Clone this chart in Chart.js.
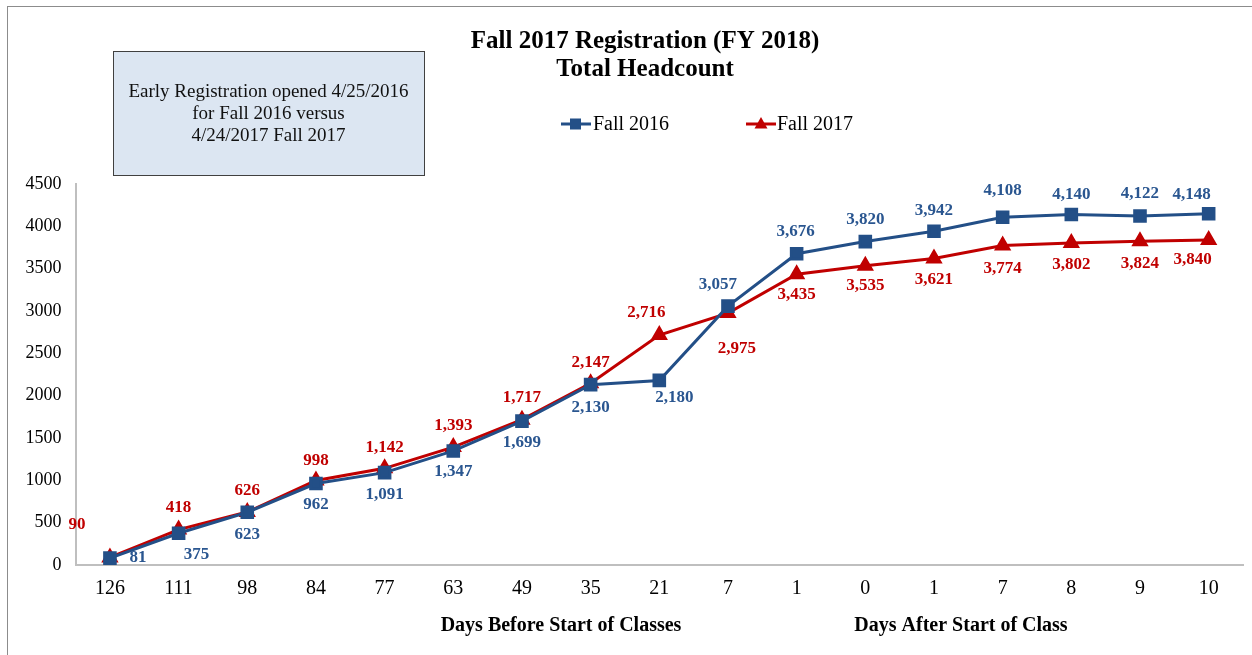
<!DOCTYPE html>
<html>
<head>
<meta charset="utf-8">
<script src="https://cdn.jsdelivr.net/npm/chart.js@4.4.1/dist/chart.umd.min.js"></script>
<style>
  html, body { margin: 0; padding: 0; background: #ffffff; overflow: hidden; }
  #wrap { position: relative; width: 1252px; height: 655px; }
  canvas { display: block; }
</style>
</head>
<body>
<div id="wrap"><canvas id="c" width="1252" height="655"></canvas></div>
<script>
// ---- Data ----
const categories = ['126','111','98','84','77','63','49','35','21','7','1','0','1','7','8','9','10'];
const fall2016 = [81, 375, 623, 962, 1091, 1347, 1699, 2130, 2180, 3057, 3676, 3820, 3942, 4108, 4140, 4122, 4148];
const fall2017 = [90, 418, 626, 998, 1142, 1393, 1717, 2147, 2716, 2975, 3435, 3535, 3621, 3774, 3802, 3824, 3840];
const seriesNames = ['Fall 2016', 'Fall 2017'];
const titleLines = ['Fall 2017 Registration (FY 2018)', 'Total Headcount'];
const noteLines = ['Early Registration opened 4/25/2016', 'for Fall 2016 versus', '4/24/2017 Fall 2017'];
const axisTitleBefore = 'Days Before Start of Classes';
const axisTitleAfter = 'Days After Start of Class';

// ---- Styles ----
const BLUE = '#234f87';
const BLUE_TXT = '#2a5690';
const RED = '#c00000';
const SERIF = '"Liberation Serif", "Times New Roman", serif';

// label offsets (dx, dy) relative to each point
const off2016 = [[28,-1],[18,21],[0,22],[0,21],[0,22],[0,21],[0,21],[0,23],[15,17],[-10,-22],[-1,-22],[0,-22],[0,-21],[0,-27],[0,-20],[0,-22],[-17,-19]];
const off2017 = [[-33,-33],[0,-22],[0,-21],[0,-20],[0,-21],[0,-21],[0,-22],[0,-21],[-13,-22],[9,35],[0,20],[0,20],[0,21],[0,23],[0,22],[0,22],[-16,20]];

function fmt(v){ return v.toLocaleString('en-US'); }

const decor = {
  id: 'decor',
  beforeDraw(chart) {
    const ctx = chart.ctx;
    ctx.save();
    // outer border
    ctx.strokeStyle = '#8c8c8c';
    ctx.lineWidth = 1;
    ctx.strokeRect(7.5, 6.5, 1300, 700);
    // note box
    ctx.fillStyle = '#dce6f2';
    ctx.fillRect(113, 51, 311, 124);
    ctx.strokeStyle = '#404040';
    ctx.lineWidth = 1;
    ctx.strokeRect(113.5, 51.5, 311, 124);
    ctx.fillStyle = '#111';
    ctx.font = '19px ' + SERIF;
    ctx.textAlign = 'center';
    ctx.textBaseline = 'middle';
    noteLines.forEach((t, i) => ctx.fillText(t, 268.5, 92 + i * 22));
    // title
    ctx.fillStyle = '#000';
    ctx.font = 'bold 25px ' + SERIF;
    titleLines.forEach((t, i) => ctx.fillText(t, 645, 42 + i * 28));
    // legend
    ctx.font = '20px ' + SERIF;
    ctx.textAlign = 'left';
    // Fall 2016
    ctx.strokeStyle = BLUE; ctx.lineWidth = 3;
    ctx.beginPath(); ctx.moveTo(561, 124); ctx.lineTo(591, 124); ctx.stroke();
    ctx.fillStyle = BLUE; ctx.fillRect(570, 118.5, 11, 11);
    ctx.fillStyle = '#000'; ctx.fillText(seriesNames[0], 593, 125);
    // Fall 2017
    ctx.strokeStyle = RED; ctx.lineWidth = 3;
    ctx.beginPath(); ctx.moveTo(746, 124); ctx.lineTo(776, 124); ctx.stroke();
    ctx.fillStyle = RED;
    ctx.beginPath(); ctx.moveTo(761, 117); ctx.lineTo(767.5, 128.5); ctx.lineTo(754.5, 128.5); ctx.closePath(); ctx.fill();
    ctx.fillStyle = '#000'; ctx.fillText(seriesNames[1], 777, 125);
    // axis group titles
    ctx.font = 'bold 20px ' + SERIF;
    ctx.textAlign = 'center';
    ctx.fillText(axisTitleBefore, 561, 626);
    ctx.fillText(axisTitleAfter, 961, 626);
    ctx.restore();
  },
  afterDatasetsDraw(chart) {
    const ctx = chart.ctx;
    ctx.save();
    ctx.font = 'bold 17px ' + SERIF;
    ctx.textAlign = 'center';
    ctx.textBaseline = 'middle';
    const sets = [[0, off2016, BLUE_TXT], [1, off2017, RED]];
    sets.forEach(([di, offs, col]) => {
      const meta = chart.getDatasetMeta(di);
      ctx.fillStyle = col;
      meta.data.forEach((pt, i) => {
        const v = chart.data.datasets[di].data[i];
        ctx.fillText(fmt(v), pt.x + offs[i][0], pt.y + offs[i][1]);
      });
    });
    ctx.restore();
  }
};

new Chart(document.getElementById('c'), {
  type: 'line',
  data: {
    labels: categories,
    datasets: [
      { label: seriesNames[0], data: fall2016, borderColor: BLUE, backgroundColor: BLUE, borderWidth: 3,
        pointStyle: 'rect', pointRadius: 7.5, pointHoverRadius: 7.5, tension: 0 },
      { label: seriesNames[1], data: fall2017, borderColor: RED, backgroundColor: RED, borderWidth: 3,
        pointStyle: 'triangle', pointRadius: 7, pointHoverRadius: 7, tension: 0 }
    ]
  },
  options: {
    responsive: false,
    animation: false,
    devicePixelRatio: 1,
    layout: { autoPadding: false, padding: { top: 184, right: 9, left: 0, bottom: 0 } },
    plugins: { legend: { display: false }, title: { display: false }, tooltip: { enabled: false } },
    scales: {
      x: {
        offset: true,
        grid: { display: false, drawTicks: false },
        border: { display: true, color: '#bfbfbf', width: 2 },
        ticks: { color: '#000', font: { family: SERIF, size: 20 }, padding: 12, maxRotation: 0, autoSkip: false },
        afterFit(s) { s.height = 90; }
      },
      y: {
        min: 0, max: 4500,
        grid: { display: false, drawTicks: false },
        border: { display: true, color: '#bfbfbf', width: 2 },
        ticks: { stepSize: 500, color: '#000', font: { family: SERIF, size: 18 }, padding: 14,
                 callback: (v) => String(v) },
        afterFit(s) { s.width = 75.6; }
      }
    }
  },
  plugins: [decor]
});
</script>
</body>
</html>
